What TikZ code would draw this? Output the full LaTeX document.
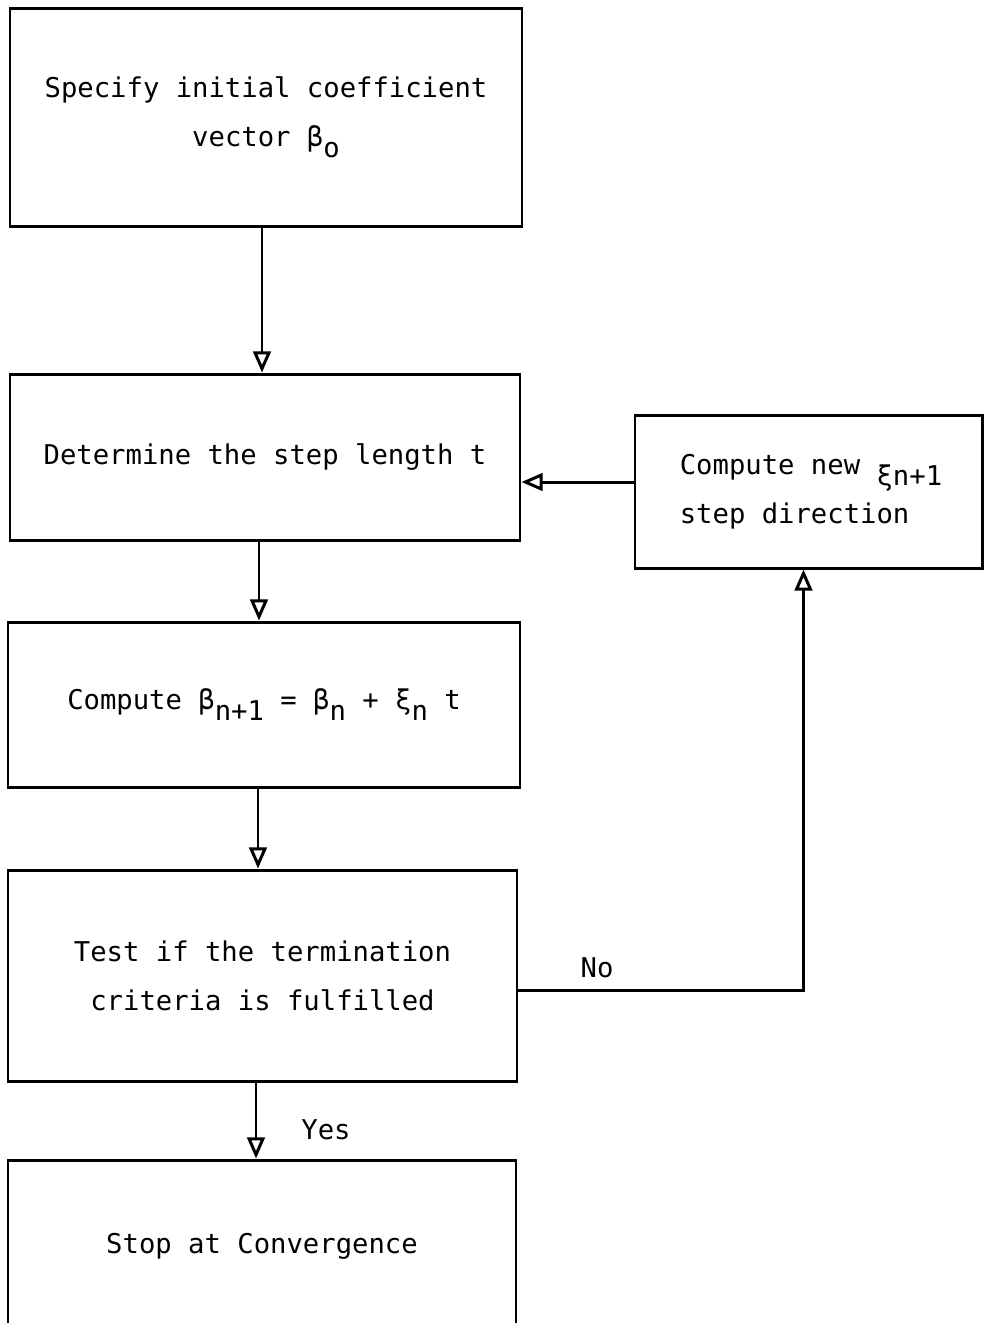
\documentclass[tikz,border=0pt]{standalone}
\usepackage{fontspec}
\setmainfont{DejaVu Sans Mono}
\usetikzlibrary{arrows.meta,calc}
\begin{document}
\begin{tikzpicture}[x=0.02cm,y=-0.02cm,
  box/.style={draw,line width=1.7pt,rectangle,align=center,inner sep=0pt,
    font=\fontsize{15.5}{28}\selectfont},
  arr/.style={line width=1.7pt,-{Triangle[open,length=12pt,width=10pt,line width=1.7pt]}},
  lbl/.style={font=\fontsize{15.5}{18}\selectfont}]
\useasboundingbox (0,0) rectangle (984,1323);
\clip (0,0) rectangle (984,1323);
\newcommand{\lsub}[1]{\raisebox{-0.75ex}{#1}}
\node[box,minimum width=512*0.02cm,minimum height=218*0.02cm] (b1) at (266,117)
  {Specify initial coefficient\\vector β\lsub{o}};
\node[box,minimum width=510*0.02cm,minimum height=166*0.02cm] (b2) at (265,457)
  {Determine the step length t};
\node[box,minimum width=347*0.02cm,minimum height=153*0.02cm,align=left] (side) at (808.5,491.5)
  {\hspace*{0.1cm}Compute new \lsub{ξn+1}\\\hspace*{0.1cm}step direction};
\node[box,minimum width=512*0.02cm,minimum height=165*0.02cm] (b3) at (264,704.5)
  {Compute β\lsub{n+1} = β\lsub{n} + ξ\lsub{n} t};
\node[box,minimum width=508*0.02cm,minimum height=172*0.02cm] (b5) at (262,1246)
  {Stop at Convergence};
\node[box,minimum width=509*0.02cm,minimum height=211*0.02cm] (b4) at (262.5,975.5)
  {Test if the termination\\criteria is fulfilled};
\draw[arr] ([xshift=-0.08cm]b1.south) -- ([xshift=-0.08cm]b1.south |- b2.north);
\draw[arr] ([xshift=-0.12cm]b2.south) -- ([xshift=-0.12cm]b2.south |- b3.north);
\draw[arr] ([xshift=-0.12cm]b3.south) -- ([xshift=-0.12cm]b3.south |- b4.north);
\draw[arr] ([xshift=-0.13cm]b4.south) -- ([xshift=-0.13cm]b4.south |- b5.north);
\draw[arr] ([yshift=0.19cm]side.west) -- ([yshift=0.19cm]side.west -| b2.east);
\draw[arr] ([yshift=-0.29cm]b4.east) -| ([xshift=-0.1cm]side.south);
\node[lbl] (no) at (597,968) {No};
\node[lbl] (yes) at (326,1130) {Yes};
\end{tikzpicture}
\end{document}
